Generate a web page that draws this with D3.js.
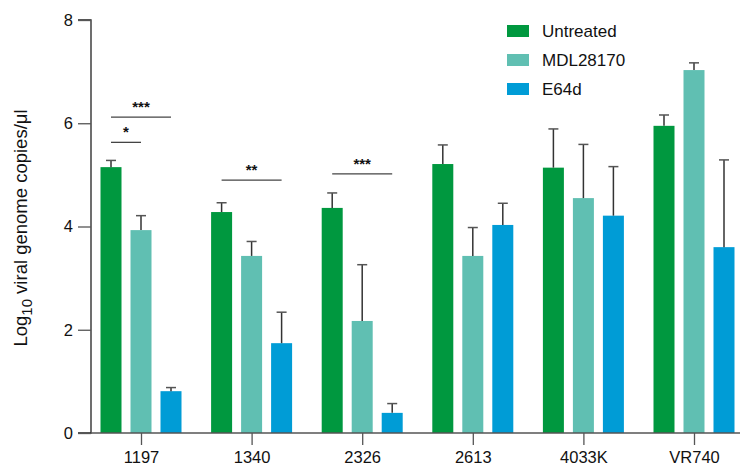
<!DOCTYPE html>
<html><head><meta charset="utf-8">
<script src="https://cdn.jsdelivr.net/npm/d3@7"></script>
<style>body{margin:0;background:#fff}svg{display:block;font-family:"Liberation Sans",Arial,sans-serif}</style>
</head><body><svg id="c" width="740" height="466"></svg>
<script>
const categories = ["1197","1340","2326","2613","4033K","VR740"];
const seriesNames = ["Untreated","MDL28170","E64d"];
const colors = ["#00983F","#60BFB2","#009CD6"];
const untreated = [5.15,4.28,4.36,5.21,5.14,5.95];
const untreatedErr = [0.13,0.18,0.29,0.37,0.75,0.21];
const mdl = [3.93,3.43,2.17,3.43,4.55,7.03];
const mdlErr = [0.28,0.28,1.09,0.55,1.04,0.14];
const e64d = [0.81,1.74,0.39,4.03,4.21,3.60];
const e64dErr = [0.07,0.60,0.18,0.42,0.95,1.69];
const yTicks = [0,2,4,6,8];
// significance: category, from series, to series, y level, label
const sigCats = ["1197","1197","1340","2326"];
const sigFrom = [0,0,0,0];
const sigTo = [2,1,2,2];
const sigLevel = [6.12,5.63,4.9,5.02];
const sigLabel = ["***","*","**","***"];

const values = [untreated, mdl, e64d];
const errs = [untreatedErr, mdlErr, e64dErr];
const FONT = "Liberation Sans, Arial, sans-serif";

const svg = d3.select("#c");
const y = d3.scaleLinear().domain([0,8]).range([433,20]);
const x = d3.scalePoint().domain(categories).range([141,694]);
const sub = d3.scalePoint().domain([0,1,2]).range([-30,30]);
const bw = 21;

// bars
seriesNames.forEach((s,si)=>{
  const g = svg.append("g");
  g.selectAll("rect").data(categories).join("rect")
    .attr("x", d=>x(d)+sub(si)-bw/2)
    .attr("y", (d,i)=>y(values[si][i]))
    .attr("width", bw)
    .attr("height", (d,i)=>y(0)-y(values[si][i]))
    .attr("fill", colors[si]);
  const eg = svg.append("g").attr("stroke","#333").attr("stroke-width",1.5);
  categories.forEach((c,i)=>{
    const cx = x(c)+sub(si);
    const top = y(values[si][i]+errs[si][i]);
    eg.append("line").attr("x1",cx).attr("x2",cx).attr("y1",y(values[si][i])).attr("y2",top);
    eg.append("line").attr("x1",cx-5).attr("x2",cx+5).attr("y1",top).attr("y2",top).attr("stroke","#555");
  });
});

// axes
const yAxis = d3.axisLeft(y).tickValues(yTicks).tickSize(13).tickPadding(5).tickFormat(d3.format("d"));
const ya = svg.append("g").attr("transform","translate(91,0)").call(yAxis)
  .attr("font-size",16.5).attr("font-family",FONT);
ya.select(".domain").attr("stroke","#222").attr("stroke-width",1.3).attr("d","M-13,20H0V433H-13");
ya.selectAll(".tick line").attr("stroke","#555").attr("stroke-width",1.3);
ya.selectAll(".tick text").attr("fill","#111");

const xAxis = d3.axisBottom(x).tickSize(12).tickPadding(6);
const xa = svg.append("g").attr("transform","translate(0,433)").call(xAxis)
  .attr("font-size",16.5).attr("font-family",FONT);
xa.select(".domain").attr("d","M91,0H740").attr("stroke","#555").attr("stroke-width",1.3);
xa.selectAll(".tick line").attr("stroke","#555").attr("stroke-width",1.3);
xa.selectAll(".tick text").attr("fill","#111");

// y label
const lab = svg.append("text").attr("transform","translate(27,228) rotate(-90)")
  .attr("text-anchor","middle").attr("font-size",18.5).attr("fill","#111");
lab.append("tspan").text("Log");
lab.append("tspan").attr("dy",5).attr("font-size",15).text("10");
lab.append("tspan").attr("dy",-5).text(" viral genome copies/μl");

// significance
sigCats.forEach((c,i)=>{
  const x1 = x(c)+sub(sigFrom[i]), x2 = x(c)+sub(sigTo[i]);
  const yy = y(sigLevel[i]);
  svg.append("line").attr("x1",x1).attr("x2",x2).attr("y1",yy).attr("y2",yy)
    .attr("stroke","#444").attr("stroke-width",1.3);
  svg.append("text").attr("x",(x1+x2)/2).attr("y",yy-5).attr("text-anchor","middle")
    .attr("font-size",15).attr("font-weight","bold").attr("fill","#111").text(sigLabel[i]);
});

// legend
const lg = svg.append("g");
seriesNames.forEach((s,i)=>{
  const ly = 31 + i*29;
  lg.append("rect").attr("x",507).attr("y",ly-6).attr("width",22).attr("height",12).attr("fill",colors[i]);
  lg.append("text").attr("x",542).attr("y",ly).attr("dominant-baseline","central")
    .attr("font-size",17).attr("fill","#111").text(s);
});
</script></body></html>
